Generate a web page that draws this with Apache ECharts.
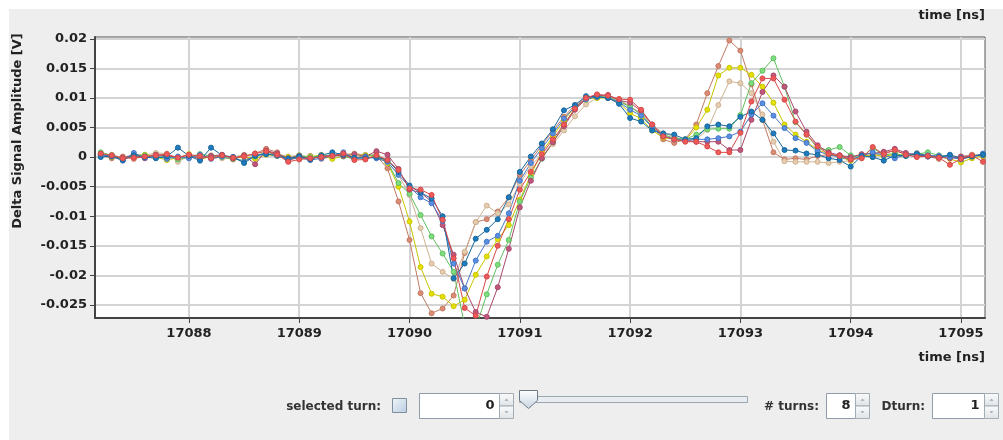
<!DOCTYPE html>
<html><head><meta charset="utf-8">
<script src="https://cdn.jsdelivr.net/npm/echarts@6/dist/echarts.min.js"></script>
<style>html,body{margin:0;padding:0;background:#ffffff;}#c{width:1003px;height:440px;}</style>
</head><body><div id="c"></div><script>
// time samples [ns]
var times = [
17087.2,17087.3,17087.4,17087.5,17087.6,17087.7,17087.8,17087.9,17088.0,17088.1,
17088.2,17088.3,17088.4,17088.5,17088.6,17088.7,17088.8,17088.9,17089.0,17089.1,
17089.2,17089.3,17089.4,17089.5,17089.6,17089.7,17089.8,17089.9,17090.0,17090.1,
17090.2,17090.3,17090.4,17090.5,17090.6,17090.7,17090.8,17090.9,17091.0,17091.1,
17091.2,17091.3,17091.4,17091.5,17091.6,17091.7,17091.8,17091.9,17092.0,17092.1,
17092.2,17092.3,17092.4,17092.5,17092.6,17092.7,17092.8,17092.9,17093.0,17093.1,
17093.2,17093.3,17093.4,17093.5,17093.6,17093.7,17093.8,17093.9,17094.0,17094.1,
17094.2,17094.3,17094.4,17094.5,17094.6,17094.7,17094.8,17094.9,17095.0,17095.1,
17095.2];

// turn traces [V]
var turnBrown = [
0.0003,-0.0002,0.0001,-0.0003,0.0002,0.0004,0.0002,-0.0003,0.0001,0.0003,
-0.0002,0.0000,-0.0004,0.0002,0.0006,0.0014,0.0008,-0.0006,0.0000,0.0002,
-0.0003,0.0001,0.0004,-0.0002,0.0003,0.0002,
-0.0019,-0.0075,-0.0140,-0.0230,-0.0264,-0.0256,-0.0234,-0.0162,-0.0110,-0.0105,
-0.0092,-0.0068,-0.0030,-0.0005,0.0020,0.0045,0.0068,0.0088,0.0100,0.0105,
0.0102,0.0096,0.0086,0.0072,0.0052,0.0030,0.0024,0.0030,0.0055,0.0108,
0.0154,0.0197,0.0180,0.0123,0.0063,0.0008,-0.0004,-0.0002,-0.0004,0.0002,0.0004,
0.0003,-0.0002,0.0004,0.0000,0.0008,0.0010,0.0006,0.0003,0.0001,-0.0003,0.0002,-0.0002,0.0004,0.0001];
var turnTan = [
0.0002,0.0004,-0.0001,0.0005,0.0003,0.0007,0.0006,-0.0008,0.0002,0.0001,
0.0003,-0.0002,0.0000,0.0004,0.0002,0.0008,0.0005,0.0001,0.0003,-0.0001,
0.0004,0.0001,0.0005,0.0006,0.0004,0.0003,
-0.0008,-0.0030,-0.0064,-0.0120,-0.0180,-0.0194,-0.0206,-0.0160,-0.0110,-0.0082,
-0.0095,-0.0080,-0.0045,-0.0015,0.0005,0.0022,0.0045,0.0069,0.0089,0.0100,
0.0102,0.0098,0.0085,0.0075,0.0055,0.0040,0.0035,0.0028,0.0030,0.0046,
0.0088,0.0128,0.0125,0.0108,0.0072,0.0026,-0.0007,-0.0008,-0.0008,-0.0008,-0.0010,
-0.0008,-0.0006,0.0002,0.0003,0.0005,0.0002,0.0004,0.0007,0.0003,0.0000,-0.0002,0.0001,0.0004,0.0003];
var turnYellow = [
0.0005,0.0000,-0.0003,0.0002,0.0004,0.0000,-0.0005,-0.0001,0.0005,-0.0004,
0.0001,0.0003,-0.0002,0.0001,-0.0003,0.0004,0.0002,0.0000,-0.0002,0.0001,
0.0003,-0.0003,0.0002,0.0004,0.0003,0.0001,
-0.0010,-0.0050,-0.0109,-0.0186,-0.0231,-0.0236,-0.0252,-0.0241,-0.0199,-0.0168,
-0.0139,-0.0115,-0.0072,-0.0030,0.0008,0.0035,0.0062,0.0085,0.0098,0.0100,
0.0100,0.0092,0.0074,0.0065,0.0045,0.0033,0.0030,0.0028,0.0050,0.0080,
0.0138,0.0151,0.0151,0.0139,0.0119,0.0092,0.0055,0.0038,0.0026,0.0012,0.0006,
0.0000,-0.0006,0.0002,0.0004,0.0001,0.0005,0.0003,0.0006,0.0002,0.0001,-0.0003,-0.0009,-0.0002,0.0002];
var turnGreen = [
0.0008,0.0003,-0.0002,0.0001,0.0003,-0.0001,0.0002,-0.0004,0.0000,0.0005,
0.0002,0.0000,-0.0003,-0.0006,0.0001,0.0009,0.0004,-0.0002,0.0003,0.0000,
0.0002,0.0004,0.0001,-0.0003,0.0002,0.0004,
-0.0008,-0.0044,-0.0062,-0.0098,-0.0134,-0.0163,-0.0194,-0.0285,-0.0290,-0.0232,
-0.0182,-0.0140,-0.0075,-0.0035,-0.0003,0.0025,0.0055,0.0082,0.0097,0.0103,
0.0101,0.0094,0.0085,0.0072,0.0052,0.0038,0.0032,0.0030,0.0038,0.0047,
0.0048,0.0048,0.0071,0.0125,0.0146,0.0167,0.0119,0.0059,0.0038,0.0015,0.0012,
0.0017,0.0003,0.0000,0.0015,0.0004,0.0006,0.0002,0.0005,0.0008,0.0003,0.0001,-0.0004,0.0002,0.0003];
var turnMauve = [
0.0005,0.0001,-0.0001,0.0003,-0.0002,0.0004,0.0002,0.0000,0.0003,-0.0003,
0.0002,0.0004,-0.0002,0.0003,-0.0012,0.0011,0.0006,-0.0002,0.0002,-0.0003,
0.0001,0.0003,0.0002,0.0005,0.0001,0.0010,
0.0004,-0.0020,-0.0055,-0.0060,-0.0075,-0.0115,-0.0165,-0.0222,-0.0262,-0.0270,
-0.0220,-0.0155,-0.0085,-0.0040,-0.0002,0.0025,0.0052,0.0080,0.0098,0.0104,
0.0105,0.0096,0.0092,0.0078,0.0055,0.0036,0.0030,0.0028,0.0026,0.0026,
0.0026,0.0012,0.0012,0.0063,0.0110,0.0138,0.0119,0.0077,0.0043,0.0020,0.0008,
0.0003,0.0000,0.0005,0.0006,0.0009,0.0014,0.0007,0.0003,0.0001,0.0000,-0.0002,0.0001,0.0002,0.0004];
var turnBlue = [
0.0004,0.0001,-0.0006,0.0007,-0.0001,0.0002,-0.0003,0.0001,-0.0002,0.0004,
-0.0003,0.0001,0.0000,-0.0008,0.0003,0.0006,0.0002,-0.0004,-0.0001,-0.0005,
-0.0002,0.0002,0.0008,-0.0003,0.0000,-0.0002,
-0.0008,-0.0030,-0.0050,-0.0068,-0.0078,-0.0108,-0.0180,-0.0222,-0.0175,-0.0143,
-0.0133,-0.0095,-0.0040,-0.0010,0.0015,0.0040,0.0065,0.0085,0.0098,0.0102,
0.0100,0.0093,0.0080,0.0070,0.0050,0.0035,0.0030,0.0028,0.0030,0.0030,
0.0032,0.0035,0.0043,0.0072,0.0091,0.0070,0.0049,0.0032,0.0024,0.0010,0.0004,
0.0000,-0.0004,0.0002,0.0008,0.0003,-0.0002,0.0004,0.0006,0.0003,0.0002,0.0000,-0.0004,0.0001,0.0006];
var turnTeal = [
0.0000,0.0002,-0.0005,0.0003,0.0000,-0.0002,0.0001,0.0016,0.0002,-0.0006,
0.0016,0.0003,0.0000,-0.0010,0.0002,0.0005,0.0003,-0.0003,0.0001,-0.0004,
0.0003,0.0008,0.0004,-0.0001,-0.0002,0.0000,
-0.0005,-0.0025,-0.0048,-0.0060,-0.0070,-0.0100,-0.0205,-0.0180,-0.0138,-0.0123,
-0.0105,-0.0068,-0.0025,0.0001,0.0023,0.0047,0.0079,0.0088,0.0103,0.0102,
0.0100,0.0090,0.0066,0.0060,0.0045,0.0040,0.0038,0.0030,0.0032,0.0052,
0.0055,0.0052,0.0068,0.0077,0.0063,0.0040,0.0012,0.0011,0.0006,0.0004,-0.0002,
-0.0005,-0.0016,0.0002,0.0000,-0.0006,0.0003,0.0002,0.0005,0.0001,0.0000,0.0004,-0.0002,0.0001,0.0004];
var turnRed = [
0.0006,0.0003,-0.0002,-0.0001,0.0001,0.0003,0.0005,-0.0001,0.0004,0.0002,
-0.0002,0.0003,-0.0001,0.0001,0.0006,0.0010,0.0004,-0.0008,-0.0004,-0.0002,
0.0000,0.0002,0.0006,-0.0005,-0.0004,0.0003,
-0.0005,-0.0022,-0.0053,-0.0055,-0.0064,-0.0106,-0.0171,-0.0255,-0.0268,-0.0202,
-0.0150,-0.0105,-0.0055,-0.0025,0.0005,0.0030,0.0055,0.0082,0.0100,0.0106,
0.0104,0.0098,0.0097,0.0080,0.0055,0.0035,0.0030,0.0026,0.0026,0.0018,
0.0008,0.0008,0.0041,0.0094,0.0133,0.0133,0.0097,0.0060,0.0038,0.0018,0.0005,
0.0002,-0.0004,-0.0002,0.0017,0.0005,0.0012,0.0004,0.0000,0.0002,-0.0001,-0.0013,-0.0003,0.0003,-0.0008];

var xTicks = [17088,17089,17090,17091,17092,17093,17094,17095];
var yTicks = [-0.025,-0.02,-0.015,-0.01,-0.005,0,0.005,0.01,0.015,0.02];
var yTickLabels = ['-0.025','-0.02','-0.015','-0.01','-0.005','0','0.005','0.01','0.015','0.02'];

var traces = [
  {name:'turn 1', data: turnBrown,  line:'#c27a63', fill:'#dc8c74'},
  {name:'turn 2', data: turnTan,    line:'#cfb291', fill:'#e6cdb0'},
  {name:'turn 3', data: turnYellow, line:'#c8c400', fill:'#e4e000'},
  {name:'turn 4', data: turnGreen,  line:'#5fbf5f', fill:'#7fdc7f'},
  {name:'turn 5', data: turnMauve,  line:'#a8486a', fill:'#c0587c'},
  {name:'turn 6', data: turnBlue,   line:'#4478c8', fill:'#5a8ee0'},
  {name:'turn 7', data: turnTeal,   line:'#16689f', fill:'#1f7bbb'},
  {name:'turn 8', data: turnRed,    line:'#d84848', fill:'#ee5a5a'}
];

var FONT = 'DejaVu Sans';
var chart = echarts.init(document.getElementById('c'), null, {renderer:'canvas'});

function pairs(arr){ var out=[]; for (var i=0;i<arr.length;i++) out.push([times[i], arr[i]]); return out; }

var series = traces.map(function(t){
  return {
    name: t.name, type:'line', data: pairs(t.data),
    symbol:'circle', symbolSize:5, showAllSymbol:true, clip:true,
    lineStyle:{color:t.line, width:1},
    itemStyle:{color:t.fill, borderColor:t.line, borderWidth:1},
    emphasis:{disabled:true}, animation:false
  };
});

function spinner(x, w, y, h, val){
  var els = [];
  els.push({type:'rect', shape:{x:x, y:y, width:w, height:h}, style:{fill:'#ffffff', stroke:'#8f9daa', lineWidth:1}});
  els.push({type:'text', x:x+w-5, y:y+h/2, style:{text:val, fill:'#222', font:'bold 13px "'+FONT+'"', textAlign:'right', textVerticalAlign:'middle'}});
  var bx = x+w, bw = 14, hh = h/2;
  [0,1].forEach(function(j){
    els.push({type:'rect', shape:{x:bx, y:y+j*hh, width:bw, height:hh},
      style:{fill:new echarts.graphic.LinearGradient(0,0,0,1,[{offset:0,color:'#fbfbfb'},{offset:1,color:'#dfe3e6'}]), stroke:'#a2adb6', lineWidth:1}});
  });
  var cx = bx+bw/2;
  els.push({type:'polygon', shape:{points:[[cx-2,y+hh/2+1],[cx+2,y+hh/2+1],[cx,y+hh/2-1]]}, style:{fill:'#9aa4ad'}});
  els.push({type:'polygon', shape:{points:[[cx-2,y+hh+hh/2-1],[cx+2,y+hh+hh/2-1],[cx,y+hh+hh/2+1]]}, style:{fill:'#9aa4ad'}});
  return els;
}

var graphics = [
  {type:'rect', z:-10, shape:{x:9, y:9, width:994, height:431}, style:{fill:'#eeeeee'}, silent:true},
  {type:'text', x:985, y:16, style:{text:'time [ns]', fill:'#222', font:'bold 13px "'+FONT+'"', textAlign:'right', textVerticalAlign:'middle'}},
  {type:'text', x:985, y:358, style:{text:'time [ns]', fill:'#222', font:'bold 13px "'+FONT+'"', textAlign:'right', textVerticalAlign:'middle'}},
  {type:'text', x:18, y:131, rotation:Math.PI/2, style:{text:'Delta Signal Amplitude [V]', fill:'#222', font:'bold 13px "'+FONT+'"', textAlign:'center', textVerticalAlign:'middle'}},
  {type:'text', x:381, y:407, style:{text:'selected turn:', fill:'#333', font:'bold 12px "'+FONT+'"', textAlign:'right', textVerticalAlign:'middle'}},
  {type:'rect', shape:{x:392.5, y:398.5, width:14, height:14}, style:{fill:new echarts.graphic.LinearGradient(0,0,1,1,[{offset:0,color:'#f2f6fb'},{offset:1,color:'#b9cbe0'}]), stroke:'#7f8e9c', lineWidth:1}},
  {type:'rect', shape:{x:519.5, y:396.5, width:228, height:6}, style:{fill:'#e9edf1', stroke:'#9aa6b0', lineWidth:1}},
  {type:'polygon', shape:{points:[[519.5,390.5],[537.5,390.5],[537.5,400.5],[528.5,408.5],[519.5,400.5]]},
    style:{fill:new echarts.graphic.LinearGradient(0,0,0,1,[{offset:0,color:'#ffffff'},{offset:1,color:'#c6d4e2'}]), stroke:'#6c7b89', lineWidth:1}},
  {type:'text', x:819, y:407, style:{text:'# turns:', fill:'#333', font:'bold 12px "'+FONT+'"', textAlign:'right', textVerticalAlign:'middle'}},
  {type:'text', x:925, y:407, style:{text:'Dturn:', fill:'#333', font:'bold 12px "'+FONT+'"', textAlign:'right', textVerticalAlign:'middle'}}
].concat(spinner(419.5, 80, 393.5, 25, '0'), spinner(826.5, 29, 393.5, 25, '8'), spinner(932.5, 52, 393.5, 25, '1'));

chart.setOption({
  animation:false,
  backgroundColor:'#ffffff',
  grid:{left:95, top:37, right:18, bottom:122, show:true, backgroundColor:'#ffffff', borderColor:'#555555', borderWidth:1},
  xAxis:{
    type:'value', min:17087.148, max:17095.218,
    axisLine:{show:true, onZero:false, lineStyle:{color:'#444', width:2}},
    axisTick:{show:true, length:5, customValues:xTicks, lineStyle:{color:'#444', width:1}},
    axisLabel:{customValues:xTicks, formatter:function(v){return String(v);}, color:'#222', fontFamily:FONT, fontWeight:'bold', fontSize:13, margin:9},
    splitLine:{show:true, lineStyle:{color:'#d4d4d4', width:2}}
  },
  yAxis:{
    type:'value', min:-0.0272, max:0.0203,
    axisLine:{show:true, onZero:false, lineStyle:{color:'#444', width:2}},
    axisTick:{show:true, length:5, customValues:yTicks, lineStyle:{color:'#444', width:1}},
    axisLabel:{customValues:yTicks, formatter:function(v){
        for (var i=0;i<yTicks.length;i++) if (Math.abs(yTicks[i]-v)<1e-9) return yTickLabels[i];
        return '';
      }, color:'#222', fontFamily:FONT, fontWeight:'bold', fontSize:13, margin:8},
    splitLine:{show:true, lineStyle:{color:'#d4d4d4', width:2}}
  },
  graphic: graphics,
  series: series
});
</script></body></html>
